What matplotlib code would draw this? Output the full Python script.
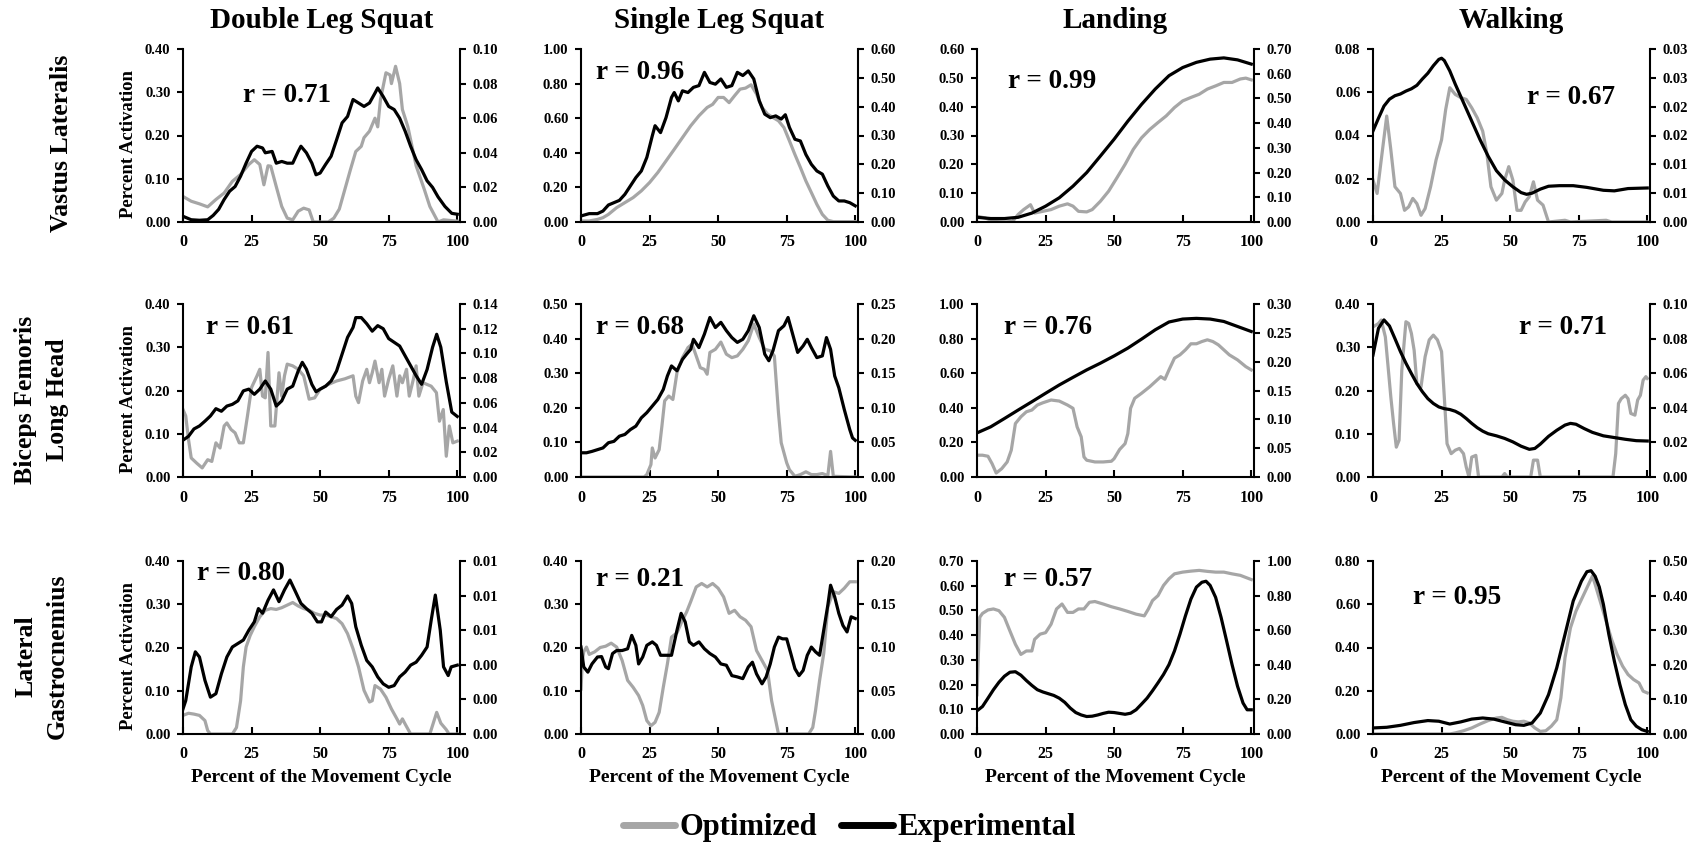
import numpy as np
import matplotlib
matplotlib.use('Agg')
import matplotlib.pyplot as plt
from matplotlib.lines import Line2D
from matplotlib.ticker import FuncFormatter
from decimal import Decimal, ROUND_HALF_UP

plt.rcParams['font.family'] = 'Liberation Serif'
plt.rcParams['font.weight'] = 'bold'

tasks = ['Double Leg Squat', 'Single Leg Squat', 'Landing', 'Walking']
muscles = ['Vastus Lateralis', 'Biceps Femoris\nLong Head', 'Lateral\nGastrocnemius']

OPT_COLOR = '#a6a6a6'
EXP_COLOR = '#000000'

#%% Vastus lateralis
vl_dls_opt_x = [0, 3, 6, 9, 12, 15, 18, 21, 24, 26, 28, 29.5, 31, 32, 34, 36, 38, 40, 42, 44, 46, 47.5, 53, 55, 57,
                59, 61, 63, 65, 66, 68, 70, 71, 72, 74, 75.5, 76, 77.5, 79, 80, 82, 85, 88, 90, 93, 95, 100]
vl_dls_opt = [0.059, 0.048, 0.042, 0.035, 0.052, 0.067, 0.094, 0.11, 0.133, 0.144, 0.133, 0.086, 0.13, 0.129,
              0.082, 0.036, 0.009, 0.005, 0.025, 0.032, 0.028, 0.0, 0.0, 0.009, 0.03, 0.075, 0.12, 0.163, 0.175,
              0.195, 0.21, 0.24, 0.22, 0.283, 0.345, 0.34, 0.32, 0.36, 0.32, 0.26, 0.22, 0.13, 0.075, 0.036, 0.0,
              0.005, 0.002]
vl_dls_exp_x = [0, 3, 6, 9, 11, 13, 15, 17, 19, 21, 23, 25, 27, 29, 30, 32.5, 34, 36, 38, 40, 42, 43, 45, 47,
                48.5, 50, 52, 54, 56, 58, 60, 62, 64, 66, 68, 70, 71, 73, 75, 77, 79, 81, 83, 85, 87, 89, 91, 93,
                95.5, 98, 100]
vl_dls_exp = [0.0033, 0.0013, 0.001, 0.0013, 0.0038, 0.0073, 0.013, 0.0178, 0.0205, 0.0265, 0.034, 0.0408,
              0.0438, 0.0428, 0.04, 0.0408, 0.034, 0.035, 0.034, 0.034, 0.0408, 0.0438, 0.04, 0.034, 0.0273,
              0.0283, 0.0333, 0.038, 0.0475, 0.0573, 0.061, 0.0708, 0.0688, 0.0668, 0.0688, 0.0745, 0.0775,
              0.0725, 0.0668, 0.065, 0.06, 0.0525, 0.0438, 0.036, 0.0303, 0.0238, 0.02, 0.0145, 0.009, 0.005,
              0.0045]

vl_sls_opt_x = [0, 3, 6, 8, 10, 13, 16, 19, 22, 25, 28, 31, 34, 37, 40, 43, 46, 48, 50, 52, 54, 56, 58, 60, 62,
                64, 66, 68, 70, 72, 74, 76, 78, 80, 82, 84, 86, 88, 90, 92, 100]
vl_sls_opt = [0.006, 0.006, 0.015, 0.025, 0.044, 0.083, 0.112, 0.141, 0.18, 0.228, 0.286, 0.353, 0.42, 0.488,
              0.556, 0.614, 0.662, 0.68, 0.72, 0.72, 0.69, 0.73, 0.768, 0.774, 0.793, 0.74, 0.662, 0.624, 0.604,
              0.585, 0.546, 0.469, 0.39, 0.315, 0.237, 0.17, 0.102, 0.044, 0.01, 0.002, 0.002]
vl_sls_exp_x = [0, 3, 6, 8, 10, 12, 14, 16, 18, 20, 22, 24, 26, 27, 29, 31, 33, 34, 35.5, 37, 39, 41, 43, 45,
                47, 49, 51, 53, 55, 57, 59, 61, 63, 65, 67, 69, 71, 73, 74.5, 76, 78, 80, 82, 84, 86, 88, 90,
                92, 94, 96, 98, 100]
vl_sls_exp = [0.021, 0.029, 0.029, 0.038, 0.059, 0.067, 0.075, 0.096, 0.125, 0.154, 0.177, 0.224, 0.299, 0.334,
              0.31, 0.362, 0.432, 0.449, 0.42, 0.455, 0.449, 0.467, 0.473, 0.519, 0.484, 0.478, 0.496, 0.467,
              0.473, 0.519, 0.508, 0.524, 0.496, 0.42, 0.374, 0.362, 0.368, 0.357, 0.372, 0.328, 0.287, 0.281,
              0.234, 0.2, 0.177, 0.166, 0.125, 0.09, 0.073, 0.073, 0.067, 0.056]

vl_land_opt_x = [0, 3, 6, 10, 13, 15, 17, 19.5, 21, 24, 27, 30, 33, 35, 37, 40, 42, 45, 48, 51, 54, 57, 60, 63,
                 66, 69, 72, 75, 78, 81, 84, 87, 90, 93, 96, 98, 100]
vl_land_opt = [0.02, 0.014, 0.002, 0.0, 0.002, 0.026, 0.043, 0.06, 0.031, 0.037, 0.043, 0.055, 0.063, 0.055,
               0.037, 0.035, 0.043, 0.072, 0.107, 0.153, 0.2, 0.252, 0.292, 0.321, 0.345, 0.368, 0.397, 0.42,
               0.432, 0.443, 0.461, 0.472, 0.484, 0.484, 0.496, 0.499, 0.493]
vl_land_exp_x = [0, 5, 10, 15, 20, 25, 30, 35, 40, 45, 50, 55, 60, 65, 70, 75, 80, 85, 90, 95, 100]
vl_land_exp = [0.019, 0.014, 0.014, 0.019, 0.036, 0.064, 0.098, 0.145, 0.2, 0.267, 0.335, 0.408, 0.476, 0.538,
               0.592, 0.625, 0.646, 0.659, 0.664, 0.656, 0.639]

vl_walk_opt_x = [0, 1.5, 3, 5, 6.5, 8, 10, 11.5, 13, 14.5, 16, 17.5, 19, 21, 23, 25, 26.5, 28, 30, 32, 34, 36,
                 38, 40, 41.5, 43, 45, 47, 48, 49.5, 51, 52.5, 54, 55.5, 57, 58.5, 60, 62, 64, 70, 72, 85, 87, 100]
vl_walk_opt = [0.0194, 0.0132, 0.0287, 0.049, 0.0334, 0.0163, 0.0132, 0.0054, 0.007, 0.0109, 0.0085, 0.0031,
               0.0062, 0.0163, 0.0287, 0.038, 0.052, 0.0621, 0.059, 0.0575, 0.0567, 0.0528, 0.0482, 0.042,
               0.0318, 0.0163, 0.0101, 0.0132, 0.0194, 0.0256, 0.0194, 0.0054, 0.0054, 0.0093, 0.0117, 0.0186,
               0.0101, 0.0078, 0.0, 0.0008, 0.0, 0.0008, 0.0, 0.0]
vl_walk_exp_x = [0, 2, 4, 6, 8, 10, 12, 14, 16, 18, 20, 22, 24, 25, 26, 28, 30, 33, 36, 39, 42, 45, 48, 51, 54,
                 56, 58, 61, 64, 68, 73, 78, 84, 88, 93, 100]
vl_walk_exp = [0.0158, 0.018, 0.0201, 0.0213, 0.0219, 0.0222, 0.0227, 0.0231, 0.0237, 0.0248, 0.0258, 0.0271,
               0.0282, 0.0284, 0.028, 0.0262, 0.0239, 0.0207, 0.0175, 0.0143, 0.0114, 0.0089, 0.0073, 0.0061,
               0.0051, 0.0048, 0.005, 0.0057, 0.0062, 0.0063, 0.0063, 0.006, 0.0055, 0.0054, 0.0058, 0.0059]

#%% Biceps femoris long head
bf_dls_opt_x = [0, 1, 2, 3, 5, 7, 9, 10.5, 12, 13.5, 15, 16, 17.5, 19, 20.5, 22, 23.5, 25, 27, 28, 29, 30, 31,
                32, 33.5, 35, 36, 37, 38, 40, 42, 44, 46, 48, 50, 53, 56, 59, 62, 63, 64, 65.5, 67, 68, 69, 70,
                71.5, 72.5, 73.5, 75, 76.5, 78, 79, 80, 81.5, 82.5, 84, 85, 86, 87.5, 89, 90.5, 92.4, 93.5, 94.9,
                96, 97.1, 98.4, 100]
bf_dls_opt = [0.156, 0.141, 0.087, 0.044, 0.032, 0.021, 0.04, 0.036, 0.079, 0.067, 0.118, 0.125, 0.11, 0.102,
              0.079, 0.079, 0.141, 0.207, 0.234, 0.249, 0.187, 0.183, 0.288, 0.118, 0.118, 0.241, 0.187, 0.234,
              0.261, 0.257, 0.249, 0.234, 0.18, 0.183, 0.203, 0.214, 0.222, 0.227, 0.234, 0.187, 0.172, 0.222,
              0.249, 0.218, 0.241, 0.268, 0.218, 0.249, 0.187, 0.226, 0.257, 0.187, 0.234, 0.218, 0.249, 0.187,
              0.226, 0.257, 0.187, 0.218, 0.214, 0.21, 0.195, 0.129, 0.156, 0.048, 0.118, 0.079, 0.083]
bf_dls_exp_x = [0, 2, 4, 6, 8, 10, 12, 14, 16, 18, 20, 22, 24, 26, 28, 30, 32, 34, 36, 38, 40, 42, 43.5, 45, 47,
                48.5, 50, 52, 54, 56, 58, 60, 62, 63, 65, 67, 69, 71, 73, 75, 77, 79, 81, 83, 85, 87, 89, 91,
                92.5, 94, 96, 98, 100]
bf_dls_exp = [0.0298, 0.0329, 0.0389, 0.0413, 0.0452, 0.0494, 0.0553, 0.0532, 0.0574, 0.0588, 0.0616, 0.0697,
              0.0711, 0.0669, 0.0711, 0.0777, 0.0711, 0.0574, 0.0616, 0.0711, 0.0735, 0.0858, 0.0928, 0.0872,
              0.0749, 0.069, 0.0711, 0.0735, 0.0777, 0.0858, 0.0994, 0.113, 0.121, 0.129, 0.129, 0.124, 0.118,
              0.1225, 0.12, 0.112, 0.109, 0.106, 0.098, 0.09, 0.082, 0.075, 0.087, 0.105, 0.1155, 0.105, 0.077,
              0.0525, 0.049]

bf_sls_opt_x = [0, 23, 24, 25.5, 26, 27, 28.5, 29.5, 30.5, 32, 33.5, 35, 37, 39, 40.5, 42, 43.5, 45, 46, 47, 49,
                51, 53, 55, 57, 59, 61, 63, 65, 67, 69, 70.5, 72, 73, 75, 76, 78, 80, 82, 84, 86, 88, 90, 91, 92,
                100]
bf_sls_opt = [0.0, 0.0, 0.007, 0.036, 0.084, 0.055, 0.079, 0.147, 0.22, 0.234, 0.224, 0.302, 0.345, 0.374,
              0.384, 0.35, 0.316, 0.311, 0.297, 0.36, 0.369, 0.39, 0.355, 0.345, 0.35, 0.369, 0.394, 0.442, 0.403,
              0.369, 0.365, 0.35, 0.186, 0.099, 0.041, 0.021, 0.002, 0.007, 0.015, 0.007, 0.007, 0.01, 0.004,
              0.074, 0.002, 0.0]
bf_sls_exp_x = [0, 2, 4, 6, 8, 10, 12, 14, 16, 18, 20, 22, 24, 26, 28, 30, 31.5, 33, 35, 37, 38.5, 40, 41, 43,
                45, 47, 49, 51, 53, 55, 57, 59, 61, 63, 65, 67, 68.5, 70, 72, 74, 75.5, 77, 79, 81, 82.5, 84, 86,
                88, 89.5, 91, 92.5, 94, 96, 98, 99, 100]
bf_sls_exp = [0.035, 0.035, 0.037, 0.0395, 0.042, 0.0495, 0.0515, 0.059, 0.0615, 0.0685, 0.0735, 0.0855, 0.093,
              0.1025, 0.112, 0.1265, 0.146, 0.1605, 0.1535, 0.17, 0.1775, 0.1845, 0.199, 0.187, 0.2065, 0.2305,
              0.216, 0.2235, 0.2115, 0.2015, 0.1945, 0.199, 0.2115, 0.233, 0.216, 0.1775, 0.168, 0.1825, 0.2115,
              0.2185, 0.2305, 0.209, 0.18, 0.1895, 0.199, 0.187, 0.1725, 0.175, 0.2015, 0.1845, 0.146, 0.129,
              0.0975, 0.0685, 0.0565, 0.053]

bf_land_opt_x = [0, 2, 4, 5.5, 7, 9, 11, 12.5, 14, 16, 18, 20, 22, 24, 27, 30, 33, 35, 36.5, 38, 39, 40, 43, 46,
                 49, 50, 52, 54, 55, 56, 57.5, 60, 63, 65, 67, 68.5, 70, 72, 74, 76, 78, 80, 82, 84, 86, 88, 90,
                 92, 95, 98, 100]
bf_land_opt = [0.126, 0.126, 0.12, 0.077, 0.023, 0.048, 0.087, 0.155, 0.309, 0.348, 0.377, 0.387, 0.416, 0.429,
               0.445, 0.439, 0.416, 0.397, 0.29, 0.232, 0.116, 0.097, 0.087, 0.087, 0.091, 0.106, 0.159, 0.193,
               0.251, 0.397, 0.455, 0.484, 0.522, 0.551, 0.58, 0.565, 0.619, 0.687, 0.706, 0.735, 0.77, 0.77,
               0.783, 0.793, 0.783, 0.764, 0.735, 0.706, 0.677, 0.638, 0.619]
bf_land_exp_x = [0, 5, 10, 15, 20, 25, 30, 35, 40, 45, 50, 55, 60, 65, 70, 75, 80, 85, 90, 95, 100]
bf_land_exp = [0.0765, 0.087, 0.1014, 0.1161, 0.1305, 0.1452, 0.1596, 0.1728, 0.1857, 0.1974, 0.21, 0.2235,
               0.2391, 0.2553, 0.2688, 0.2739, 0.2751, 0.2739, 0.2697, 0.261, 0.2523]

bf_walk_opt_x = [0, 2, 3, 4.5, 5.5, 6.5, 7.5, 8.5, 9.5, 10.5, 12, 13, 14, 15, 16, 17.5, 19, 20.5, 22, 23.5, 25,
                 26, 27, 28.5, 30, 31.5, 33, 34, 35, 36, 37.5, 38.5, 47, 48, 49, 57.5, 58.5, 60, 61, 87.5, 88.5,
                 89.5, 90.5, 92, 93, 94, 95.5, 96.5, 97.5, 98.5, 99.5, 100]
bf_walk_opt = [0.347, 0.355, 0.363, 0.324, 0.255, 0.185, 0.124, 0.069, 0.085, 0.247, 0.359, 0.355, 0.332, 0.293,
               0.216, 0.208, 0.278, 0.317, 0.328, 0.317, 0.29, 0.185, 0.077, 0.054, 0.062, 0.066, 0.054, 0.023,
               0.0, 0.046, 0.05, 0.0, 0.0, 0.008, 0.0, 0.0, 0.039, 0.039, 0.0, 0.0, 0.054, 0.17, 0.181, 0.189,
               0.181, 0.147, 0.143, 0.178, 0.189, 0.224, 0.232, 0.228]
bf_walk_exp_x = [0, 1, 2, 4, 6, 8, 10, 12, 14, 16, 18, 20, 22, 24, 26, 28, 30, 32, 34, 36, 38, 40, 42, 45, 48,
                 51, 54, 57, 59, 61, 64, 67, 70, 72, 74, 77, 80, 84, 88, 92, 96, 100]
bf_walk_exp = [0.0705, 0.0783, 0.086, 0.0908, 0.0873, 0.08, 0.0725, 0.0658, 0.0598, 0.054, 0.0493, 0.0453,
               0.0425, 0.0405, 0.0395, 0.039, 0.038, 0.0363, 0.0338, 0.031, 0.0285, 0.0265, 0.025, 0.0238,
               0.0223, 0.0203, 0.0178, 0.016, 0.0165, 0.019, 0.0235, 0.027, 0.03, 0.031, 0.0305, 0.028, 0.0258,
               0.0238, 0.0228, 0.0218, 0.021, 0.0208]

#%% Lateral gastrocnemius
lg_dls_opt_x = [0, 2, 4, 6, 8, 9, 10, 18, 19.5, 21, 22, 23, 24.5, 26, 28, 30, 32, 34, 36, 38, 40, 42, 44, 46, 48,
                50, 52, 54, 56, 58, 60, 62, 64, 66, 68, 69, 70, 72, 74, 76, 78, 79, 80, 81, 83, 90, 91.5, 92.5,
                94, 96, 97, 100]
lg_dls_opt = [0.043, 0.048, 0.046, 0.043, 0.031, 0.008, 0.0, 0.0, 0.015, 0.077, 0.155, 0.201, 0.228, 0.248,
              0.271, 0.286, 0.29, 0.288, 0.292, 0.298, 0.304, 0.296, 0.29, 0.286, 0.279, 0.275, 0.275, 0.271,
              0.267, 0.255, 0.232, 0.197, 0.155, 0.101, 0.074, 0.077, 0.112, 0.104, 0.085, 0.058, 0.035, 0.023,
              0.035, 0.023, 0.0, 0.0, 0.03, 0.05, 0.025, 0.01, 0.0, 0.0]
lg_dls_exp_x = [0, 1, 3, 4.5, 6, 8, 10, 12, 14, 16, 18, 20, 22, 24, 26, 27.5, 29, 31, 33, 35, 37, 39, 41, 43, 45,
                47, 49, 50.5, 52, 54, 56, 58, 60, 61.5, 63, 65, 67, 69, 71, 73, 75, 77, 79, 81, 83, 85, 87, 89,
                90.5, 92, 93.8, 95, 96.7, 97.8, 100]
lg_dls_exp = [0.00145, 0.00193, 0.00388, 0.00475, 0.00445, 0.0031, 0.00213, 0.00233, 0.00348, 0.00445, 0.00503,
              0.00523, 0.00543, 0.006, 0.00648, 0.00725, 0.00698, 0.00773, 0.00833, 0.00765, 0.00833, 0.0089,
              0.00823, 0.00755, 0.00725, 0.00698, 0.00648, 0.00648, 0.00705, 0.00678, 0.0072, 0.00745, 0.00798,
              0.00755, 0.0062, 0.00513, 0.00425, 0.00388, 0.0033, 0.0029, 0.0027, 0.0028, 0.0033, 0.00358,
              0.00398, 0.00415, 0.00455, 0.00503, 0.00658, 0.00803, 0.006, 0.00388, 0.00338, 0.00388, 0.00398]

lg_sls_opt_x = [0, 0.5, 1, 2, 3, 5, 7, 9, 11, 13, 15, 17, 19, 21, 22.5, 24, 25.5, 27, 28.5, 30, 31.5, 33, 35, 37,
                38.5, 40, 42, 44, 46, 48, 50, 52, 54, 56, 58, 60, 62, 64, 66, 68, 69.5, 71, 72, 83, 84.5, 85.5,
                87, 88.5, 90, 92, 94, 96, 98, 100]
lg_sls_opt = [0.104, 0.17, 0.19, 0.201, 0.184, 0.19, 0.2, 0.203, 0.21, 0.201, 0.17, 0.124, 0.108, 0.089, 0.066,
              0.031, 0.019, 0.027, 0.05, 0.108, 0.162, 0.224, 0.234, 0.263, 0.282, 0.306, 0.34, 0.348, 0.34,
              0.348, 0.337, 0.317, 0.279, 0.286, 0.271, 0.263, 0.248, 0.193, 0.17, 0.147, 0.077, 0.031, 0.0, 0.0,
              0.015, 0.054, 0.124, 0.186, 0.294, 0.329, 0.325, 0.337, 0.352, 0.352]
lg_sls_exp_x = [0, 1, 2.5, 4, 6, 7.5, 9, 10, 11.5, 13, 15, 17, 18.5, 20, 21, 22.5, 24, 26, 27.5, 29, 31, 33, 35,
                36.5, 38, 39.5, 41, 43, 45, 47, 49, 51, 53, 55, 57, 59, 61, 62.5, 64, 66, 67.5, 69, 70.5, 72,
                73.5, 75, 76.5, 78, 79.5, 81, 82.5, 84, 85.5, 87, 88.5, 90, 91, 92.5, 94, 95.5, 97, 98.5, 100]
lg_sls_exp = [0.1005, 0.0775, 0.0715, 0.081, 0.089, 0.0895, 0.0775, 0.0755, 0.093, 0.0965, 0.0965, 0.0985, 0.114,
              0.1025, 0.081, 0.089, 0.1025, 0.1065, 0.1025, 0.091, 0.091, 0.091, 0.12, 0.1395, 0.1295, 0.1065,
              0.1025, 0.1065, 0.0985, 0.093, 0.089, 0.081, 0.0795, 0.0675, 0.066, 0.064, 0.0775, 0.083, 0.0695,
              0.058, 0.066, 0.081, 0.1005, 0.112, 0.11, 0.11, 0.093, 0.0755, 0.0675, 0.0735, 0.091, 0.1005,
              0.095, 0.091, 0.12, 0.149, 0.172, 0.1585, 0.1395, 0.1255, 0.118, 0.1355, 0.1335]

lg_land_opt_x = [0, 0.5, 1, 2, 4, 6, 8, 10, 12, 14, 16, 18, 20, 21, 23, 25, 27, 29, 31, 33, 35, 37, 39, 41, 43,
                 46, 49, 52, 55, 58, 61, 62.5, 64, 66, 68, 70, 72, 75, 78, 81, 84, 87, 90, 93, 96, 100]
lg_land_opt = [0.159, 0.322, 0.472, 0.488, 0.502, 0.506, 0.499, 0.472, 0.417, 0.363, 0.322, 0.336, 0.336, 0.383,
               0.404, 0.41, 0.444, 0.506, 0.526, 0.492, 0.492, 0.506, 0.506, 0.533, 0.536, 0.526, 0.515, 0.506,
               0.496, 0.485, 0.478, 0.506, 0.54, 0.56, 0.601, 0.628, 0.648, 0.655, 0.659, 0.662, 0.658, 0.655,
               0.655, 0.648, 0.642, 0.625]
lg_land_exp_x = [0, 2, 4, 6, 8, 10, 12, 14, 16, 18, 20, 22, 24, 26, 28, 30, 32, 34, 36, 38, 40, 42, 44, 46, 48,
                 50, 52, 54, 56, 58, 60, 62, 64, 66, 68, 70, 72, 74, 76, 78, 80, 82, 83.5, 85, 87, 89, 91, 93, 95,
                 97, 98.5, 100]
lg_land_exp = [0.134, 0.159, 0.207, 0.256, 0.299, 0.334, 0.357, 0.36, 0.34, 0.309, 0.281, 0.256, 0.243, 0.233,
               0.223, 0.207, 0.183, 0.15, 0.124, 0.11, 0.101, 0.103, 0.11, 0.119, 0.126, 0.124, 0.119, 0.114,
               0.12, 0.14, 0.173, 0.207, 0.25, 0.296, 0.344, 0.401, 0.48, 0.577, 0.683, 0.78, 0.849, 0.877,
               0.883, 0.859, 0.79, 0.674, 0.539, 0.401, 0.276, 0.179, 0.14, 0.14]

lg_walk_opt_x = [0, 28, 30, 33, 36, 39, 42, 45, 47, 49, 51, 53, 55, 57, 59, 61, 63, 65, 67, 68.5, 70, 72, 74, 76,
                 78, 80, 81, 83, 85, 87, 89, 91, 93, 95, 97, 98.5, 100]
lg_walk_opt = [0.0, 0.0, 0.005, 0.015, 0.028, 0.046, 0.062, 0.074, 0.077, 0.066, 0.059, 0.056, 0.059, 0.051,
               0.028, 0.012, 0.015, 0.036, 0.066, 0.167, 0.352, 0.491, 0.568, 0.622, 0.676, 0.73, 0.692, 0.607,
               0.522, 0.437, 0.368, 0.314, 0.275, 0.252, 0.236, 0.198, 0.19]
lg_walk_exp_x = [0, 5, 10, 15, 20, 24, 28, 32, 36, 40, 44, 48, 52, 55, 58, 61, 64, 67, 70, 73, 76, 78, 79.5, 81,
                 82.5, 84, 86, 88, 90, 92, 94, 96, 98, 100]
lg_walk_exp = [0.0175, 0.0194, 0.025, 0.0331, 0.0388, 0.0369, 0.0288, 0.035, 0.0431, 0.0463, 0.0431, 0.035,
               0.0269, 0.025, 0.0319, 0.0606, 0.1138, 0.1913, 0.2875, 0.3844, 0.442, 0.469, 0.472, 0.456, 0.425,
               0.375, 0.2875, 0.2106, 0.1431, 0.085, 0.0413, 0.0225, 0.0125, 0.0075]

# axis ranges (top, step) for the optimized (left) and experimental (right) scales
left_scales = [[(0.40, 0.10), (1.00, 0.20), (0.60, 0.10), (0.08, 0.02)],
               [(0.40, 0.10), (0.50, 0.10), (1.00, 0.20), (0.40, 0.10)],
               [(0.40, 0.10), (0.40, 0.10), (0.70, 0.10), (0.80, 0.20)]]
right_scales = [[(0.10, 0.02), (0.60, 0.10), (0.70, 0.10), (0.03, 0.005)],
                [(0.14, 0.02), (0.25, 0.05), (0.30, 0.05), (0.10, 0.02)],
                [(0.01, 0.002), (0.20, 0.05), (1.00, 0.20), (0.50, 0.10)]]
r_values = [['0.71', '0.96', '0.99', '0.67'],
            ['0.61', '0.68', '0.76', '0.71'],
            ['0.80', '0.21', '0.57', '0.95']]
r_pos = [[(0.377, 0.73), (0.214, 0.867), (0.27, 0.81), (0.714, 0.72)],
         [(0.243, 0.867), (0.214, 0.867), (0.257, 0.867), (0.685, 0.867)],
         [(0.21, 0.93), (0.214, 0.895), (0.255, 0.895), (0.304, 0.79)]]

optimized = [[(vl_dls_opt_x, vl_dls_opt), (vl_sls_opt_x, vl_sls_opt), (vl_land_opt_x, vl_land_opt), (vl_walk_opt_x, vl_walk_opt)],
             [(bf_dls_opt_x, bf_dls_opt), (bf_sls_opt_x, bf_sls_opt), (bf_land_opt_x, bf_land_opt), (bf_walk_opt_x, bf_walk_opt)],
             [(lg_dls_opt_x, lg_dls_opt), (lg_sls_opt_x, lg_sls_opt), (lg_land_opt_x, lg_land_opt), (lg_walk_opt_x, lg_walk_opt)]]
experimental = [[(vl_dls_exp_x, vl_dls_exp), (vl_sls_exp_x, vl_sls_exp), (vl_land_exp_x, vl_land_exp), (vl_walk_exp_x, vl_walk_exp)],
                [(bf_dls_exp_x, bf_dls_exp), (bf_sls_exp_x, bf_sls_exp), (bf_land_exp_x, bf_land_exp), (bf_walk_exp_x, bf_walk_exp)],
                [(lg_dls_exp_x, lg_dls_exp), (lg_sls_exp_x, lg_sls_exp), (lg_land_exp_x, lg_land_exp), (lg_walk_exp_x, lg_walk_exp)]]


def two_dp(v, pos):
    # Excel-style half-up rounding so 0.015 shows as 0.02
    d = Decimal(str(round(float(v), 6))).quantize(Decimal('0.01'), rounding=ROUND_HALF_UP)
    return str(abs(d)) if d == 0 else str(d)


W, H = 1699, 844
fig = plt.figure(figsize=(W / 100, H / 100), dpi=100)

col_left = [183, 581, 977, 1373]
row_bottom = [222, 477, 734]
aw, ah = 277, 173

for i in range(3):
    for j in range(4):
        ax = fig.add_axes([col_left[j] / W, 1 - row_bottom[i] / H, aw / W, ah / H])
        ax2 = ax.twinx()

        ox, oy = optimized[i][j]
        ex, ey = experimental[i][j]
        ax.plot(ox, oy, color=OPT_COLOR, lw=2.3, solid_joinstyle='round')
        ax2.plot(ex, ey, color=EXP_COLOR, lw=2.3, solid_joinstyle='round')

        top, step = left_scales[i][j]
        ax.set_ylim(0, top)
        ax.set_yticks(np.linspace(0, top, int(round(top / step)) + 1))
        ax.yaxis.set_major_formatter(FuncFormatter(two_dp))
        top2, step2 = right_scales[i][j]
        ax2.set_ylim(0, top2)
        ax2.set_yticks(np.linspace(0, top2, int(round(top2 / step2)) + 1))
        ax2.yaxis.set_major_formatter(FuncFormatter(two_dp))

        ax.set_xlim(0, 101)
        ax.set_xticks([0, 25, 50, 75, 100])

        for a in (ax, ax2):
            a.spines['top'].set_visible(False)
            for s in a.spines.values():
                s.set_linewidth(1.5)
        ax.spines['right'].set_visible(False)
        ax2.spines['left'].set_visible(False)
        ax2.spines['bottom'].set_visible(False)

        ax.tick_params(axis='x', direction='in', length=5, width=1.5, pad=9, labelsize=11.5)
        ax.tick_params(axis='y', direction='out', length=4, width=1.5, pad=5, labelsize=10.5)
        ax2.tick_params(axis='y', direction='out', length=4, width=1.5, pad=5, labelsize=10.5)

        rx, ry = r_pos[i][j]
        ax.text(rx, ry, 'r = ' + r_values[i][j], transform=ax.transAxes, ha='center', va='center',
                fontsize=19.5, fontweight='bold', zorder=5)

        if j == 0:
            ax.set_ylabel('Percent Activation', fontsize=13.5, fontweight='bold')
            ax.yaxis.set_label_coords(-0.165, 0.45)
        if i == 2:
            ax.set_xlabel('Percent of the Movement Cycle', fontsize=14, fontweight='bold')
            ax.xaxis.set_label_coords(0.5, -0.2)

# column headers
for j, name in enumerate(tasks):
    fig.text((col_left[j] + aw / 2) / W, 1 - 20 / H, name, ha='center', va='center', fontsize=21,
             fontweight='bold')

# row headers
row_y = [0.830, 0.526, 0.222]
for i, name in enumerate(muscles):
    x = 0.036 if '\n' not in name else 0.0245
    fig.text(x, row_y[i], name, rotation=90, ha='center', va='center', fontsize=18.5, fontweight='bold',
             multialignment='center', linespacing=1.5)

handles = [Line2D([], [], color=OPT_COLOR, lw=5, solid_capstyle='round'),
           Line2D([], [], color=EXP_COLOR, lw=5, solid_capstyle='round')]
fig.legend(handles, ['Optimized', 'Experimental'], loc='center', bbox_to_anchor=(0.5, 0.019), ncol=2,
           frameon=False, prop={'size': 22, 'weight': 'bold'}, handlelength=1.7, handletextpad=0.15,
           columnspacing=0.8, borderpad=0)

fig.savefig('out.png', dpi=100)
